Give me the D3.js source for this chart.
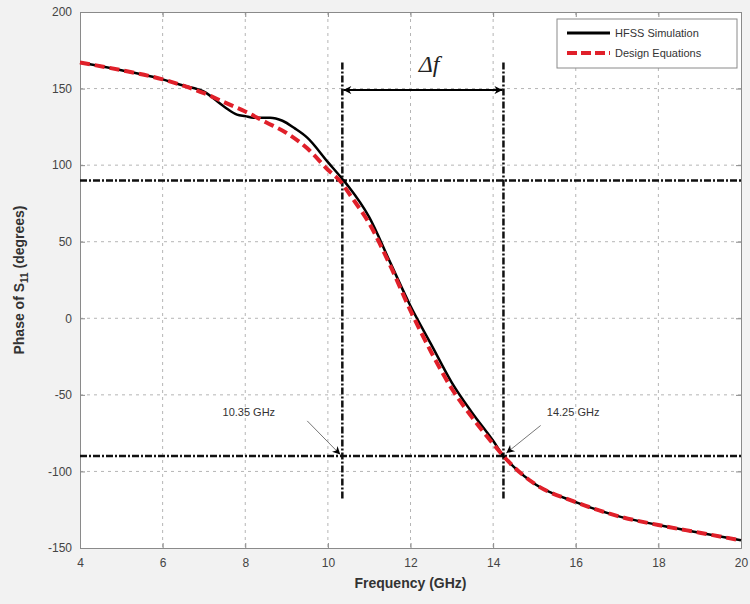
<!DOCTYPE html>
<html>
<head>
<meta charset="utf-8">
<script src="https://cdn.jsdelivr.net/npm/d3@7"></script>
<style>
  body { margin: 0; background: #f2f2f2; }
  svg { display: block; font-family: Arial, "Liberation Sans", sans-serif; }
</style>
</head>
<body>
<script>
// Data
const freq = [4, 5, 6, 6.5, 7, 7.5, 7.8, 8, 8.2, 8.6, 8.9, 9.2, 9.5, 10, 10.35, 10.5, 11, 11.5, 12, 12.5, 13, 13.5, 14, 14.25, 14.5, 15, 16, 17, 18, 19, 20];
const hfss = [167, 162, 156, 152, 148, 138, 133, 132, 131, 131, 129, 124, 118, 102, 91, 86, 66, 37, 8, -17, -42, -62, -80, -90, -97, -108, -120, -129, -135, -140, -145];

const freqEq = [4, 5, 6, 7, 7.5, 8, 8.5, 9, 9.5, 10, 10.35, 10.5, 11, 11.5, 12, 12.5, 13, 13.5, 14, 14.25, 14.5, 15, 16, 17, 18, 19, 20];
const designEq = [167, 162, 156, 147, 141, 135, 128, 121, 111, 97, 88, 82, 62, 35, 5, -22, -46, -65, -82, -90, -97, -108, -120, -129, -135, -140, -145];

const xTicks = [4, 6, 8, 10, 12, 14, 16, 18, 20];
const yTicks = [-150, -100, -50, 0, 50, 100, 150, 200];

const markerFreqs = [10.35, 14.25];
const markerPhases = [90, -90];

// Set up the SVG container dimensions
const margin = { top: 12, right: 9, bottom: 56, left: 80 };
const width = 750 - margin.left - margin.right;
const height = 604 - margin.top - margin.bottom;

const root = d3.select("body")
  .append("svg")
  .attr("width", 750)
  .attr("height", 604);

const defs = root.append("defs");
defs.append("marker")
  .attr("id", "head")
  .attr("viewBox", "0 0 10 10")
  .attr("refX", 10).attr("refY", 5)
  .attr("markerWidth", 10).attr("markerHeight", 8)
  .attr("markerUnits", "userSpaceOnUse")
  .attr("orient", "auto-start-reverse")
  .append("path")
  .attr("d", "M0,0 L10,5 L0,10 L3,5 Z")
  .attr("fill", "#000");

const svg = root.append("g")
  .attr("transform", `translate(${margin.left},${margin.top})`);

// Scales
const x = d3.scaleLinear().domain([4, 20]).range([0, width]);
const y = d3.scaleLinear().domain([-150, 200]).range([height, 0]);

// Plot background
svg.append("rect")
  .attr("width", width)
  .attr("height", height)
  .attr("fill", "#fff");

// Grid
svg.append("g")
  .selectAll("line")
  .data(xTicks.slice(1, -1))
  .enter().append("line")
  .attr("x1", d => x(d)).attr("x2", d => x(d))
  .attr("y1", 0).attr("y2", height)
  .attr("stroke", "#b5b5b5")
  .attr("stroke-dasharray", "3,4");

svg.append("g")
  .selectAll("line")
  .data(yTicks.slice(1, -1))
  .enter().append("line")
  .attr("x1", 0).attr("x2", width)
  .attr("y1", d => y(d)).attr("y2", d => y(d))
  .attr("stroke", "#b5b5b5")
  .attr("stroke-dasharray", "3,4");

// Axes
const fmt = d => String(d);
svg.append("g")
  .attr("transform", `translate(0,${height})`)
  .call(d3.axisBottom(x).tickValues(xTicks).tickSize(-5).tickPadding(10).tickFormat(fmt));
svg.append("g")
  .call(d3.axisLeft(y).tickValues(yTicks).tickSize(-5).tickPadding(8).tickFormat(fmt));
svg.append("g")
  .call(d3.axisTop(x).tickValues(xTicks).tickSize(-5).tickFormat(""));
svg.append("g")
  .attr("transform", `translate(${width},0)`)
  .call(d3.axisRight(y).tickValues(yTicks).tickSize(-5).tickFormat(""));

svg.selectAll(".domain").attr("stroke", "#8a8a8a");
svg.selectAll(".tick line").attr("stroke", "#8a8a8a");
svg.selectAll(".tick text").attr("fill", "#444").style("font-size", "12px");

// Marker lines (dash-dot)
svg.append("g")
  .selectAll("line")
  .data(markerPhases)
  .enter().append("line")
  .attr("x1", 0).attr("x2", width)
  .attr("y1", d => y(d)).attr("y2", d => y(d))
  .attr("stroke", "#111")
  .attr("stroke-width", 2.5)
  .attr("stroke-dasharray", "7,2,2,2");

svg.append("g")
  .selectAll("line")
  .data(markerFreqs)
  .enter().append("line")
  .attr("x1", d => x(d)).attr("x2", d => x(d))
  .attr("y1", y(167)).attr("y2", y(-119))
  .attr("stroke", "#111")
  .attr("stroke-width", 2.5)
  .attr("stroke-dasharray", "7,2,2,2");

// Curves
const line = d3.line()
  .x(d => x(d[0]))
  .y(d => y(d[1]))
  .curve(d3.curveMonotoneX);

svg.append("path")
  .datum(d3.zip(freq, hfss))
  .attr("fill", "none")
  .attr("stroke", "#000")
  .attr("stroke-width", 2.5)
  .attr("d", line);

svg.append("path")
  .datum(d3.zip(freqEq, designEq))
  .attr("fill", "none")
  .attr("stroke", "#e0202a")
  .attr("stroke-width", 4)
  .attr("stroke-dasharray", "10,5")
  .attr("d", line);

// Delta f arrow
svg.append("line")
  .attr("x1", x(markerFreqs[0]) + 1).attr("x2", x(markerFreqs[1]) - 1)
  .attr("y1", y(149)).attr("y2", y(149))
  .attr("stroke", "#000")
  .attr("stroke-width", 2)
  .attr("marker-start", "url(#head)")
  .attr("marker-end", "url(#head)");

svg.append("text")
  .attr("x", x(12.45))
  .attr("y", y(161))
  .attr("text-anchor", "middle")
  .style("font-family", "'Liberation Serif', 'DejaVu Serif', serif")
  .style("font-style", "italic")
  .style("font-size", "24px")
  .attr("fill", "#222")
  .text("\u0394f");

// Frequency annotations
svg.append("text")
  .attr("x", x(7.45)).attr("y", y(-64))
  .style("font-size", "11px")
  .attr("fill", "#333")
  .text("10.35 GHz");
svg.append("line")
  .attr("x1", x(9.5)).attr("y1", y(-67))
  .attr("x2", x(10.3)).attr("y2", y(-89))
  .attr("stroke", "#777")
  .attr("stroke-width", 1)
  .attr("marker-end", "url(#head)");

svg.append("text")
  .attr("x", x(15.3)).attr("y", y(-64))
  .style("font-size", "11px")
  .attr("fill", "#333")
  .text("14.25 GHz");
svg.append("line")
  .attr("x1", x(15.15)).attr("y1", y(-70))
  .attr("x2", x(14.32)).attr("y2", y(-88))
  .attr("stroke", "#777")
  .attr("stroke-width", 1)
  .attr("marker-end", "url(#head)");

// Legend
const legend = svg.append("g").attr("transform", `translate(${width - 184},7)`);
legend.append("rect")
  .attr("width", 180).attr("height", 49)
  .attr("fill", "#fff")
  .attr("stroke", "#8a8a8a");
const legendItems = [
  { name: "HFSS Simulation", color: "#000", dash: null, w: 3 },
  { name: "Design Equations", color: "#e0202a", dash: "10,4", w: 4 }
];
legendItems.forEach((d, i) => {
  legend.append("line")
    .attr("x1", 10).attr("x2", 53)
    .attr("y1", 14 + i * 20).attr("y2", 14 + i * 20)
    .attr("stroke", d.color)
    .attr("stroke-width", d.w)
    .attr("stroke-dasharray", d.dash);
  legend.append("text")
    .attr("x", 58).attr("y", 18 + i * 20)
    .style("font-size", "11px")
    .attr("fill", "#333")
    .text(d.name);
});

// Axis labels
svg.append("text")
  .attr("x", width / 2).attr("y", height + 40)
  .attr("text-anchor", "middle")
  .style("font-size", "14px")
  .style("font-weight", "bold")
  .attr("fill", "#333")
  .text("Frequency (GHz)");

const yLabel = svg.append("text")
  .attr("transform", `translate(-56,${height / 2}) rotate(-90)`)
  .attr("text-anchor", "middle")
  .style("font-size", "14px")
  .style("font-weight", "bold")
  .attr("fill", "#333");
yLabel.append("tspan").text("Phase of S");
yLabel.append("tspan").attr("dy", 4).style("font-size", "10px").text("11");
yLabel.append("tspan").attr("dy", -4).text(" (degrees)");
</script>
</body>
</html>
